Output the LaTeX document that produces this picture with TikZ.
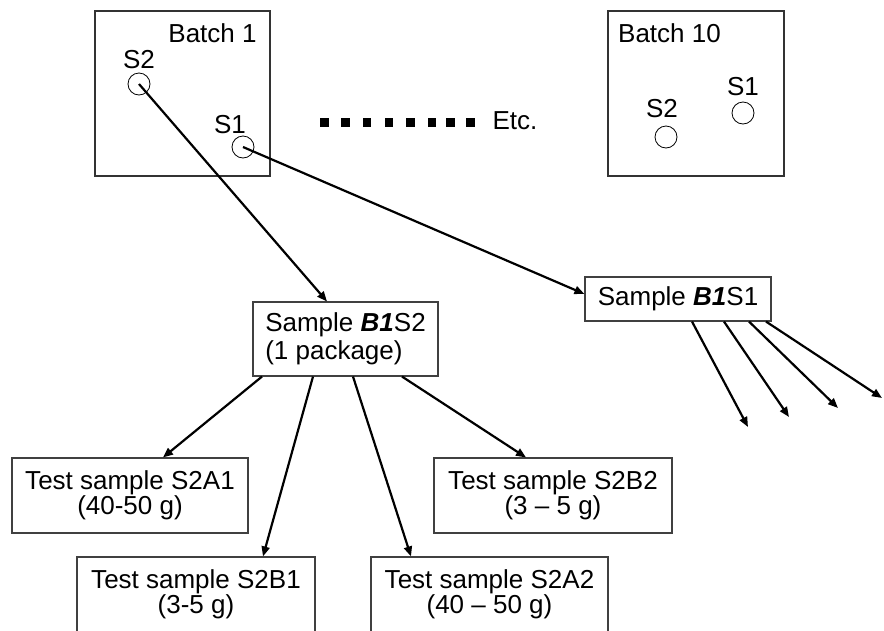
\documentclass[tikz,border=0pt]{standalone}
\usepackage{fontspec}
\setmainfont{Liberation Sans}
\usetikzlibrary{arrows.meta}
\begin{document}
\begin{tikzpicture}[x=1pt,y=-1pt,
  txt/.style={font=\fontsize{26}{31}\selectfont, inner sep=0pt},
  boxnode/.style={draw=black!75, line width=1.1pt, font=\fontsize{26}{25.5}\selectfont, align=center, inner sep=0pt},
  batchbox/.style={draw=black!80, line width=1.1pt, inner sep=0pt},
  spot/.style={circle, draw, line width=0.8pt, minimum size=22pt, inner sep=0pt},
  arr/.style={line width=2.2pt, -{Triangle[length=10pt,width=8pt]}},
  sq/.style={fill=black, minimum size=8.3pt, inner sep=0pt}
]
\useasboundingbox (0,0) rectangle (884,630);
\fill[white] (0,0) rectangle (884,630);

% batch boxes
\node[batchbox, minimum width=175pt, minimum height=165pt] (batch1) at (182.5,93.5) {};
\node[batchbox, minimum width=176pt, minimum height=165pt] (batch10) at (696,93.5) {};
\node[txt, anchor=base] (lb1) at (212.5,42) {Batch 1};
\node[txt, anchor=base] (lb10) at (669.5,42) {Batch 10};

% spots in batch 1
\node[txt, anchor=base] (ls2) at (139,68) {S2};
\node[spot] (c2) at (139,84) {};
\node[txt, anchor=base] (ls1) at (230,133) {S1};
\node[spot] (c1) at (243,147) {};

% spots in batch 10
\node[txt, anchor=base] (ms1) at (743,95) {S1};
\node[spot] (d1) at (743,113) {};
\node[txt, anchor=base] (ms2) at (662,117) {S2};
\node[spot] (d2) at (666,137) {};

% dotted line and Etc.
\foreach \i/\x in {1/324.5,2/345.5,3/367,4/389,5/410.5,6/432,7/450.5,8/470.5}
  \node[sq] (sq\i) at (\x,122.5) {};
\node[txt, anchor=base] (etc) at (515,129) {Etc.};

% samples
\node[boxnode, minimum width=185pt, minimum height=74pt, align=left,
  font=\fontsize{26}{28}\selectfont] (b1s2) at (345.5,339)
  {Sample \textbf{\textit{B1}}S2\\(1 package)};
\node[boxnode, minimum width=186pt, minimum height=44pt] (b1s1) at (678,299)
  {Sample \textbf{\textit{B1}}S1};

% test samples
\node[boxnode, minimum width=236pt, minimum height=75pt] (s2a1) at (130,495.5)
  {Test sample S2A1\\(40-50 g)};
\node[boxnode, minimum width=238pt, minimum height=75pt] (s2b2) at (553,495.5)
  {Test sample S2B2\\(3 \textendash\ 5 g)};
\node[boxnode, minimum width=238pt, minimum height=75pt] (s2b1) at (196,594.5)
  {Test sample S2B1\\(3-5 g)};
\node[boxnode, minimum width=237pt, minimum height=75pt] (s2a2) at (489.5,594.5)
  {Test sample S2A2\\(40 \textendash\ 50 g)};

% arrows from batch 1
\draw[arr] (c2.center) -- ([xshift=-18.5pt]b1s2.north);
\draw[arr] (c1.center) -- ([yshift=5pt]b1s1.west);

% arrows from sample B1S2
\draw[arr] ([xshift=-83.5pt]b1s2.south) -- ([xshift=33pt]s2a1.north);
\draw[arr] ([xshift=-32.5pt]b1s2.south) -- ([xshift=67pt]s2b1.north);
\draw[arr] ([xshift=7.5pt]b1s2.south) -- ([xshift=-78.5pt]s2a2.north);
\draw[arr] ([xshift=56.5pt]b1s2.south) -- ([xshift=-27pt]s2b2.north);

% arrows from sample B1S1
\coordinate (e1) at (748,427);
\coordinate (e2) at (789,417);
\coordinate (e3) at (838,408);
\coordinate (e4) at (882,398);
\draw[arr] ([xshift=14pt]b1s1.south) -- (e1);
\draw[arr] ([xshift=46pt]b1s1.south) -- (e2);
\draw[arr] ([xshift=71pt]b1s1.south) -- (e3);
\draw[arr] ([xshift=88pt]b1s1.south) -- (e4);
\end{tikzpicture}
\end{document}
